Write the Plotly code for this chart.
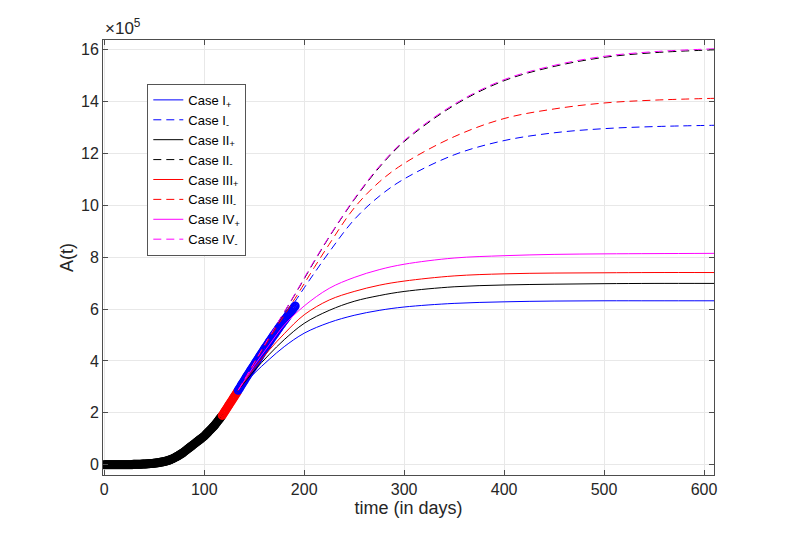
import plotly.graph_objects as go

# observed data (A(t) in units of 1e5), one point per day
black_days = list(range(0, 118))
black_vals = [
    0.00, 0.00, 0.00, 0.00, 0.00, 0.00, 0.00, 0.00, 0.00, 0.00,
    0.00, 0.00, 0.00, 0.00, 0.00, 0.00, 0.00, 0.00, 0.00, 0.00,
    0.00, 0.00, 0.00, 0.00, 0.00, 0.00, 0.00, 0.00, 0.00, 0.01,
    0.01, 0.01, 0.01, 0.01, 0.01, 0.01, 0.01, 0.01, 0.02, 0.02,
    0.02, 0.02, 0.02, 0.03, 0.03, 0.03, 0.04, 0.04, 0.04, 0.05,
    0.05, 0.06, 0.06, 0.07, 0.07, 0.08, 0.09, 0.10, 0.10, 0.11,
    0.12, 0.13, 0.14, 0.15, 0.16, 0.18, 0.19, 0.21, 0.22, 0.24,
    0.26, 0.28, 0.30, 0.32, 0.34, 0.37, 0.39, 0.42, 0.44, 0.47,
    0.50, 0.53, 0.56, 0.59, 0.62, 0.65, 0.68, 0.71, 0.74, 0.77,
    0.80, 0.83, 0.86, 0.89, 0.92, 0.95, 0.98, 1.01, 1.04, 1.07,
    1.10, 1.14, 1.18, 1.22, 1.26, 1.30, 1.34, 1.38, 1.42, 1.46,
    1.50, 1.55, 1.60, 1.65, 1.70, 1.75, 1.80, 1.85,
]
red_days = list(range(118, 134))
red_vals = [1.90, 1.96, 2.02, 2.08, 2.14, 2.20, 2.26, 2.32, 2.38, 2.44,
            2.50, 2.56, 2.62, 2.68, 2.74, 2.80]
blue_days = list(range(134, 192))
blue_vals = [
    2.87, 2.93, 2.99, 3.06, 3.12, 3.18, 3.24, 3.31, 3.37, 3.43,
    3.49, 3.55, 3.61, 3.67, 3.73, 3.79, 3.85, 3.91, 3.97, 4.03,
    4.09, 4.15, 4.21, 4.27, 4.33, 4.39, 4.45, 4.51, 4.56, 4.62,
    4.68, 4.74, 4.79, 4.85, 4.91, 4.96, 5.02, 5.07, 5.13, 5.18,
    5.24, 5.29, 5.35, 5.40, 5.45, 5.51, 5.56, 5.61, 5.66, 5.72,
    5.77, 5.82, 5.87, 5.92, 5.97, 6.02, 6.07, 6.12,
]

# model projections
plus_t = [134, 150, 165, 180, 200, 225, 250, 275, 300, 350, 400, 450, 500, 550, 610]
case1_plus = [2.87, 3.52, 4.06, 4.55, 5.07, 5.48, 5.76, 5.95, 6.08, 6.22, 6.28, 6.31, 6.32, 6.32, 6.32]
case2_plus = [2.87, 3.62, 4.25, 4.82, 5.45, 5.95, 6.30, 6.52, 6.68, 6.86, 6.93, 6.96, 6.98, 6.99, 6.99]
case3_plus = [2.87, 3.72, 4.42, 5.05, 5.78, 6.35, 6.68, 6.92, 7.08, 7.28, 7.36, 7.39, 7.40, 7.41, 7.41]
case4_plus = [2.87, 3.82, 4.62, 5.38, 6.12, 6.80, 7.22, 7.52, 7.73, 7.97, 8.06, 8.11, 8.13, 8.14, 8.15]

minus_t = [134, 160, 191, 200, 210, 225, 250, 275, 300, 350, 400, 450, 500, 550, 610]
case1_minus = [2.87, 4.50, 6.30, 6.82, 7.38, 8.20, 9.45, 10.35, 11.02, 11.95, 12.50, 12.80, 12.96, 13.04, 13.09]
case2_minus = [2.87, 4.59, 6.58, 7.17, 7.83, 8.78, 10.22, 11.46, 12.46, 13.86, 14.81, 15.36, 15.71, 15.89, 16.00]
case3_minus = [2.87, 4.55, 6.42, 6.98, 7.60, 8.50, 9.90, 10.90, 11.62, 12.65, 13.35, 13.72, 13.95, 14.06, 14.13]
case4_minus = [2.87, 4.60, 6.60, 7.20, 7.86, 8.80, 10.25, 11.50, 12.50, 13.90, 14.85, 15.40, 15.75, 15.93, 16.04]

x_ticks = [0, 100, 200, 300, 400, 500, 600]
y_ticks = [0, 2, 4, 6, 8, 10, 12, 14, 16]

fig = go.Figure()

for days, vals, col in [(black_days, black_vals, 'black'),
                        (red_days, red_vals, '#ff0000'),
                        (blue_days, blue_vals, '#0000ff')]:
    fig.add_trace(go.Scatter(
        x=days, y=vals, mode='markers', showlegend=False,
        marker=dict(symbol='circle-open', size=7, color=col, line=dict(width=2, color=col)),
    ))

cases = [
    ('Case I<sub>+</sub>', plus_t, case1_plus, '#0000ff', 'solid'),
    ('Case I<sub>-</sub>', minus_t, case1_minus, '#0000ff', '8px,5px'),
    ('Case II<sub>+</sub>', plus_t, case2_plus, 'black', 'solid'),
    ('Case II<sub>-</sub>', minus_t, case2_minus, 'black', '8px,5px'),
    ('Case III<sub>+</sub>', plus_t, case3_plus, '#ff0000', 'solid'),
    ('Case III<sub>-</sub>', minus_t, case3_minus, '#ff0000', '8px,5px'),
    ('Case IV<sub>+</sub>', plus_t, case4_plus, '#ff00ff', 'solid'),
    ('Case IV<sub>-</sub>', minus_t, case4_minus, '#ff00ff', '8px,5px'),
]
for name, t, vals, col, dash in cases:
    fig.add_trace(go.Scatter(
        x=t, y=vals, mode='lines', name=name,
        line=dict(color=col, width=1, dash=dash, shape='spline', smoothing=1.0),
    ))

axis_style = dict(
    showline=True, linecolor='#4d4d4d', linewidth=1, mirror='allticks',
    ticks='inside', ticklen=5, tickcolor='#4d4d4d',
    showgrid=True, gridcolor='#e8e8e8', gridwidth=1, zeroline=False,
    tickfont=dict(family='Liberation Sans', size=16, color='#262626'),
)

# the page puts the figure 8px in from the top-left, so margins allow for that
fig.update_layout(
    width=781, height=527, autosize=False,
    margin=dict(l=95, r=75, t=32, b=60),
    paper_bgcolor='white', plot_bgcolor='white',
    font=dict(family='Liberation Sans', color='#262626'),
    xaxis=dict(range=[-1.3, 610], tickvals=x_ticks,
               title=dict(text='time (in days)', font=dict(size=18), standoff=4),
               **axis_style),
    yaxis=dict(range=[-0.4, 16.38], tickvals=y_ticks,
               title=dict(text='A(t)', font=dict(size=18), standoff=2),
               **axis_style),
    legend=dict(x=0.0725, y=0.899, xanchor='left', yanchor='top',
                bgcolor='white', bordercolor='#555555', borderwidth=1,
                font=dict(family='Liberation Sans', size=13, color='black'),
                itemwidth=30, tracegroupgap=0),
    annotations=[dict(text='\u00d710<sup>5</sup>', xref='paper', yref='paper',
                      x=0, y=1, xanchor='left', yanchor='bottom', showarrow=False,
                      font=dict(size=17, color='#262626'))],
)

fig.write_html("out.html")
